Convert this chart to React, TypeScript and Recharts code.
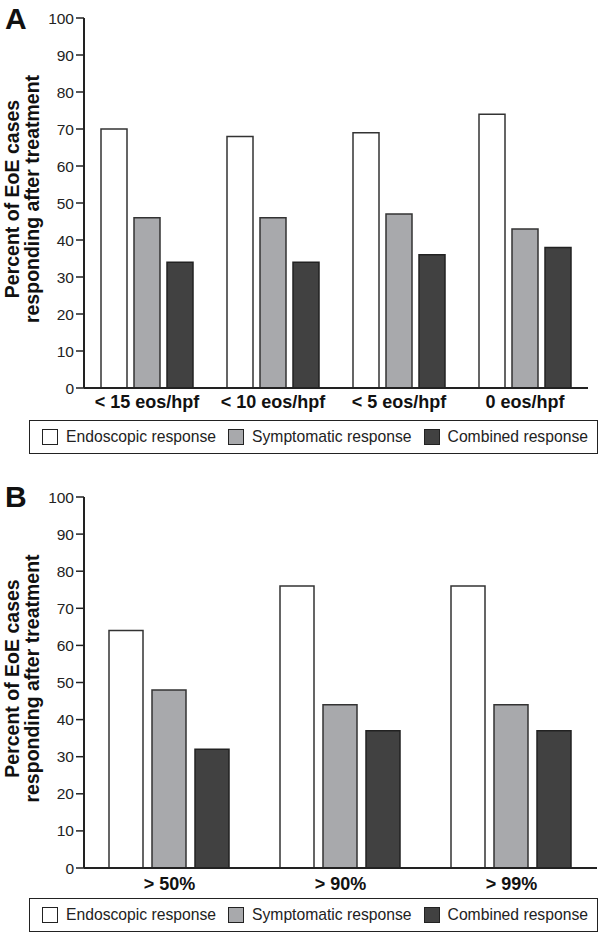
import { BarChart, Bar, XAxis, YAxis, Legend } from "recharts";

// panel A: histologic thresholds
const groupsA = ["< 15 eos/hpf", "< 10 eos/hpf", "< 5 eos/hpf", "0 eos/hpf"];
const endoA = [70, 68, 69, 74];
const sympA = [46, 46, 47, 43];
const combA = [34, 34, 36, 38];

// panel B: percent reduction
const groupsB = ["> 50%", "> 90%", "> 99%"];
const endoB = [64, 76, 76];
const sympB = [48, 44, 44];
const combB = [32, 37, 37];

const yTicks = [0, 10, 20, 30, 40, 50, 60, 70, 80, 90, 100];
const seriesNames = ["Endoscopic response", "Symptomatic response", "Combined response"];

const FONT = '"Liberation Sans", Arial, Helvetica, sans-serif';
const INK = "#222";

const series = [
  { key: "endo", name: seriesNames[0], fill: "#ffffff", stroke: "#333" },
  { key: "symp", name: seriesNames[1], fill: "#a8a9ac", stroke: "#333" },
  { key: "comb", name: seriesNames[2], fill: "#414141", stroke: "#222" },
];

const toRows = (groups: string[], e: number[], s: number[], c: number[]) =>
  groups.map((g, i) => ({ group: g, endo: e[i], symp: s[i], comb: c[i] }));

const LegendBox = () => (
  <div
    style={{
      height: 34,
      boxSizing: "border-box",
      border: `1.5px solid ${INK}`,
      display: "flex",
      alignItems: "center",
      paddingLeft: 12,
      gap: 12,
      fontFamily: FONT,
      fontSize: 15.7,
      color: INK,
      background: "#fff",
    }}
  >
    {series.map((s) => (
      <div key={s.key} style={{ display: "flex", alignItems: "center", whiteSpace: "nowrap" }}>
        <span
          style={{
            width: 16,
            height: 16,
            boxSizing: "border-box",
            border: `1.5px solid ${INK}`,
            background: s.fill,
            marginRight: 8,
            display: "inline-block",
          }}
        />
        {s.name}
      </div>
    ))}
  </div>
);

const YTitle = (props: any) => {
  const vb = props.viewBox || { x: 0, y: 0, height: 0 };
  const cy = vb.y + vb.height / 2 - 4;
  const lines = ["Percent of EoE cases", "responding after treatment"];
  const xs = [19, 39];
  return (
    <g>
      {lines.map((t, i) => (
        <text
          key={t}
          x={xs[i]}
          y={cy}
          transform={`rotate(-90 ${xs[i]} ${cy})`}
          textAnchor="middle"
          fontFamily={FONT}
          fontWeight="bold"
          fontSize={19.5}
          fill="#111"
        >
          {t}
        </text>
      ))}
    </g>
  );
};

type PanelProps = {
  letter: string;
  letterY: number;
  rows: any[];
  height: number;
  margin: { top: number; right: number; left: number; bottom: number };
  xHeight: number;
  tickMargin: number;
  catGap: number;
  barGap: number;
};

const Panel = ({ letter, letterY, rows, height, margin, xHeight, tickMargin, catGap, barGap }: PanelProps) => (
  <BarChart
    width={600}
    height={height}
    data={rows}
    margin={margin}
    barCategoryGap={catGap}
    barGap={barGap}
    style={{ fontFamily: FONT }}
  >
    <text x={5} y={letterY} fontFamily={FONT} fontWeight="bold" fontSize={30} fill="#111">
      {letter}
    </text>
    <XAxis
      dataKey="group"
      height={xHeight}
      tickLine={false}
      tickSize={0}
      tickMargin={tickMargin}
      axisLine={{ stroke: INK, strokeWidth: 2 }}
      tick={{ fontFamily: FONT, fontWeight: "bold", fontSize: 18, fill: "#111" }}
      interval={0}
    />
    <YAxis
      width={84}
      domain={[0, 100]}
      ticks={yTicks}
      interval={0}
      tickSize={8}
      tickMargin={2}
      axisLine={{ stroke: INK, strokeWidth: 2 }}
      tickLine={{ stroke: INK, strokeWidth: 1.5 }}
      tick={{ fontFamily: FONT, fontSize: 15.5, fill: INK }}
      label={(p: any) => <YTitle {...p} />}
    />
    <Legend
      verticalAlign="bottom"
      height={34}
      wrapperStyle={{ left: 29, width: 569 }}
      content={() => <LegendBox />}
    />
    {series.map((s) => (
      <Bar
        key={s.key}
        dataKey={s.key}
        name={s.name}
        fill={s.fill}
        stroke={s.stroke}
        strokeWidth={1.5}
        isAnimationActive={false}
      />
    ))}
  </BarChart>
);

export default function App() {
  return (
    <div style={{ position: "absolute", left: 0, top: 0, width: 600, height: 934, background: "#fff" }}>
      <Panel
        letter="A"
        letterY={29}
        rows={toRows(groupsA, endoA, sympA, combA)}
        height={460}
        margin={{ top: 18, right: 12, left: 0, bottom: 6 }}
        xHeight={32}
        tickMargin={7}
        catGap={17}
        barGap={7}
      />
      <Panel
        letter="B"
        letterY={47}
        rows={toRows(groupsB, endoB, sympB, combB)}
        height={474}
        margin={{ top: 37, right: 3, left: 0, bottom: 2 }}
        xHeight={30}
        tickMargin={9}
        catGap={25}
        barGap={9}
      />
    </div>
  );
}
